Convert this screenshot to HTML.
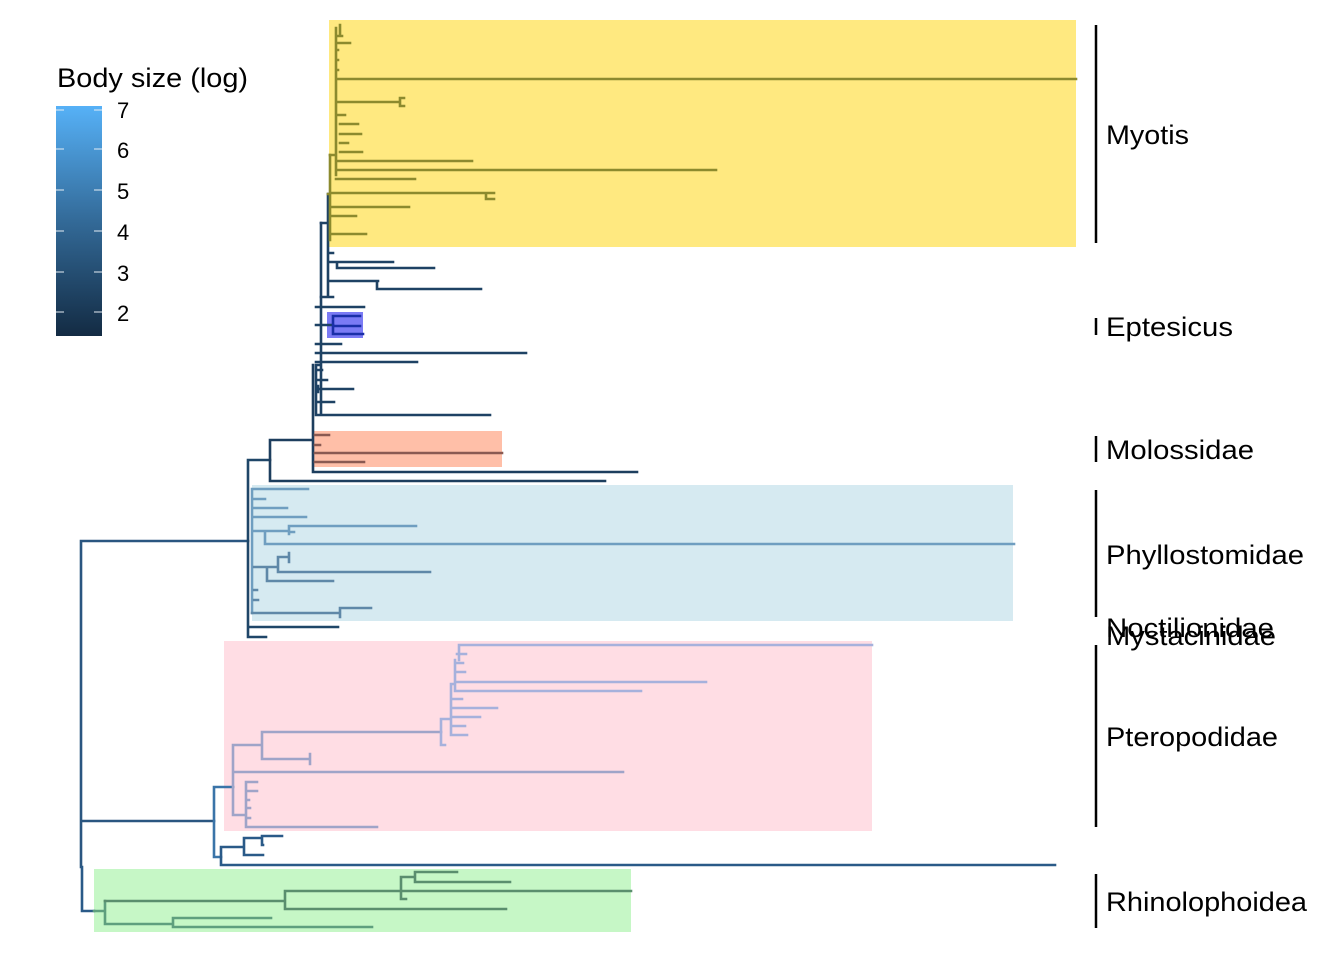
<!DOCTYPE html>
<html><head><meta charset="utf-8"><style>
html,body{margin:0;padding:0;background:#fff;}
svg{display:block;}
text{font-family:"Liberation Sans",sans-serif;}
</style></head><body>
<svg width="1344" height="960" viewBox="0 0 1344 960" xmlns="http://www.w3.org/2000/svg">
<defs>
<linearGradient id="g" x1="0" y1="0" x2="0" y2="1">
<stop offset="0" stop-color="#56b1f7"/><stop offset="0.5" stop-color="#336a98"/><stop offset="1" stop-color="#132b43"/>
</linearGradient>
</defs>
<rect x="329" y="20" width="747" height="227" fill="#ffe980"/>
<rect x="313" y="431" width="189" height="36" fill="#ffbfa8"/>
<rect x="252" y="485" width="761" height="136" fill="#d6eaf1"/>
<rect x="224" y="641" width="648" height="190" fill="#ffdde4"/>
<rect x="94" y="869" width="537" height="63" fill="#c6f7c6"/>
<rect x="327" y="312" width="36" height="26" fill="#7b7bf5"/>

<g fill="none" stroke-width="2.6" stroke-linecap="square">
<path stroke="#2a5680" d="M81 541 V867 M81 541 H248 M81 821 H214"/>
<path stroke="#2a5a88" d="M82 867 V911 H94"/>
<path stroke="#1f4668" d="M248 460 V637 H266 M248 460 H270 M248 627 H338"/>
<path stroke="#1d3e5e" d="M270 440 V481 H605 M270 440 H313 M313 365 V472 H637"/>
<path stroke="#1e4264" d="M316 365 V415 H490 M316 402 H334 M316 389 H353 M318 386 V392 M316 380 H327 M316 370 H322 M316 362 H417 M316 353 H526 M316 344 H341 M316 325 H333 M316 307 H364 M321 223 V415 M316 365 H321"/>
<path stroke="#1e4264" d="M321 223 H328 M328 194 V248 M321 297 H328 M328 250 V297 M328 253 H333 M328 262 H337 V268 M337 262 H393 M337 268 H434 M328 281 H377 V289 H481 M377 281 H378 M328 297 H333"/>
<path stroke="#1a2fa8" d="M333 316 V334 M333 316 H360 M333 326 H360 M333 334 H363"/>
<path stroke="#8a5a52" d="M315 435 H329 M315 445 H320 M315 453 H502 M315 462 H364"/>
<path stroke="#8c8a2e" d="M330 155 V240 M328 194 H330 M330 234 H366 M330 216 H356 M330 207 H409 M330 193 H486 V199 H494 M486 193 H494"/>
<path stroke="#8c8a2e" d="M336 28 V175 M330 155 H336 M336 179 H415 M336 170 H716 M338 161 H472 M340 152 H362 M340 143 H348 M340 134 H361 M340 124 H358 M336 115 H345 M336 102 H400 V106 M400 98 V106 H404 M400 98 H404 M336 79 H1076 M336 43 H350 M336 70 H338 M336 60 H338 M336 50 H338 M338 36 H340 M340 25 V36 H342"/>
<path stroke="#6f9ec0" d="M252 489 V613 M252 489 H308 M254 499 H265 M254 508 H287 M254 517 H306 M254 531 H265 V544 H1014 M265 531 H289 V526 H416 M289 532 H294 M289 526 V534"/>
<path stroke="#5f88a8" d="M254 567 H267 V581 H333 M267 567 H278 V572 H430 M278 557 V572 M278 557 H289 V562 M289 553 V562 M254 590 H257 M254 600 H258 M252 613 H340 V608 H371 M340 613 V617"/>
<path stroke="#3a74a8" d="M214 787 V857 M214 787 H233 M214 857 H221"/>
<path stroke="#9fa4c8" d="M233 745 V815 M233 745 H262 M262 732 V759 H310 M310 754 V764 M262 732 H441 M233 772 H623 M233 815 H246 M246 782 V827 M246 782 H257 M246 791 H257 M246 800 H249 M246 808 H250 M246 818 H250 M246 827 H377"/>
<path stroke="#a6b1dc" d="M441 719 V745 H445 M441 719 H451 M451 684 V735 M451 735 H467 M451 726 H465 M451 717 H480 M451 708 H497 M451 699 H462 M451 684 H455 M455 660 V691 M455 691 H641 M455 682 H706 M455 672 H465 M457 663 H463 M459 645 V660 M459 645 H872 M457 654 H466"/>
<path stroke="#2a5a88" d="M221 847 V865 H1055 M221 847 H244 M244 838 V855 H263 M244 838 H262 V845 H263 M262 836 V845 M262 836 H282 M244 855 H248"/>
<path stroke="#5f9f7e" d="M94 911 H105 M105 901 V924 M105 924 H173 V918 H271 M173 927 H372 M173 918 V927"/>
<path stroke="#5a8e6e" d="M105 901 H285 V909 H506 M285 891 V901 M285 891 H401 V899 H406 M401 877 V899 M401 877 H415 V882 H510 M415 872 V882 M415 872 H457 M401 891 H631"/>
</g>

<g stroke="#000" stroke-width="2.5">
<line x1="1096" y1="25" x2="1096" y2="243"/>
<line x1="1096" y1="318" x2="1096" y2="335"/>
<line x1="1096" y1="436" x2="1096" y2="462"/>
<line x1="1096" y1="490" x2="1096" y2="617"/>
<line x1="1096" y1="645" x2="1096" y2="827"/>
<line x1="1096" y1="874" x2="1096" y2="928"/>
</g>
<g font-size="27" fill="#000">
<text x="1106" y="144" textLength="83" lengthAdjust="spacingAndGlyphs">Myotis</text>
<text x="1106" y="336" textLength="127" lengthAdjust="spacingAndGlyphs">Eptesicus</text>
<text x="1106" y="459" textLength="148" lengthAdjust="spacingAndGlyphs">Molossidae</text>
<text x="1106" y="564" textLength="198" lengthAdjust="spacingAndGlyphs">Phyllostomidae</text>
<text x="1106" y="637" textLength="168" lengthAdjust="spacingAndGlyphs">Noctilionidae</text>
<text x="1106" y="645" textLength="170" lengthAdjust="spacingAndGlyphs">Mystacinidae</text>
<text x="1106" y="746" textLength="172" lengthAdjust="spacingAndGlyphs">Pteropodidae</text>
<text x="1106" y="911" textLength="201" lengthAdjust="spacingAndGlyphs">Rhinolophoidea</text>
</g>

<text x="57" y="87" font-size="27" fill="#000" textLength="191" lengthAdjust="spacingAndGlyphs">Body size (log)</text>
<rect x="56" y="106" width="46" height="230" fill="url(#g)"/>
<g stroke="#e6eef5" stroke-width="1.3" opacity="0.8">
<path d="M56 110 H64 M94 110 H102 M56 149 H64 M94 149 H102 M56 190 H64 M94 190 H102 M56 231 H64 M94 231 H102 M56 272 H64 M94 272 H102 M56 312 H64 M94 312 H102"/>
</g>
<g font-size="22" fill="#000">
<text x="117" y="118">7</text>
<text x="117" y="158">6</text>
<text x="117" y="199">5</text>
<text x="117" y="240">4</text>
<text x="117" y="281">3</text>
<text x="117" y="321">2</text>
</g>
</svg>
</body></html>
